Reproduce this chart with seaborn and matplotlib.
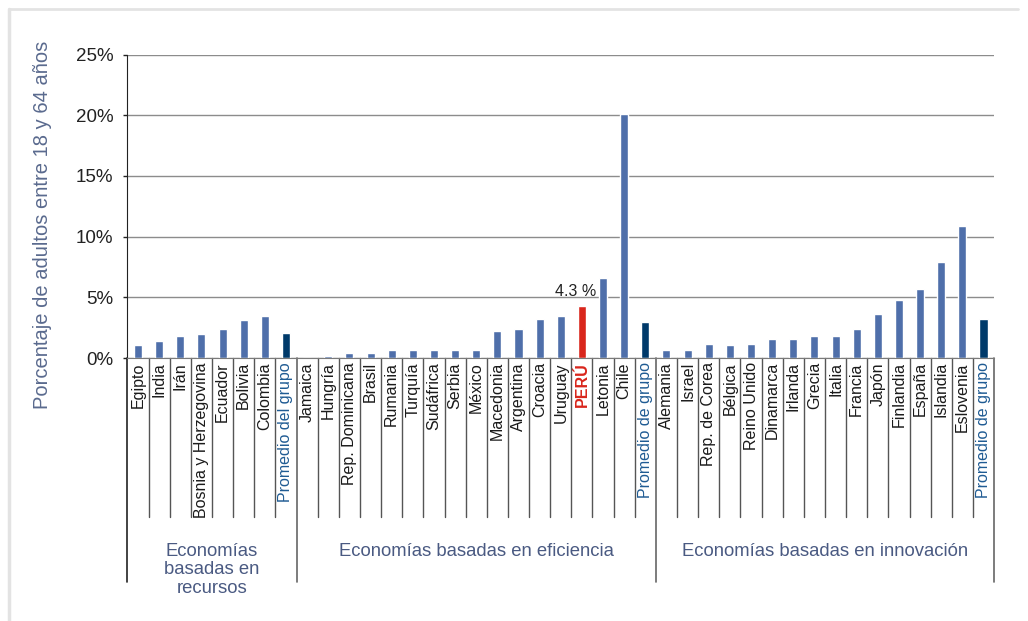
import matplotlib
matplotlib.use("Agg")
import matplotlib.pyplot as plt
import matplotlib.transforms as mtransforms
from matplotlib.lines import Line2D
import seaborn as sns
import pandas as pd

# --- datos (porcentaje de adultos entre 18 y 64 años) ---
grupos = ["Economías\nbasadas en\nrecursos",
          "Economías basadas en eficiencia",
          "Economías basadas en innovación"]

paises_recursos = ["Egipto", "India", "Irán", "Bosnia y Herzegovina", "Ecuador",
                   "Bolivia", "Colombia", "Promedio del grupo"]
valores_recursos = [1.05, 1.4, 1.8, 1.95, 2.35, 3.1, 3.45, 2.1]

paises_eficiencia = ["Jamaica", "Hungría", "Rep. Dominicana", "Brasil", "Rumania",
                     "Turquía", "Sudáfrica", "Serbia", "México", "Macedonia",
                     "Argentina", "Croacia", "Uruguay", "PERÚ", "Letonia", "Chile",
                     "Promedio de grupo"]
valores_eficiencia = [0.0, 0.15, 0.4, 0.4, 0.65, 0.65, 0.7, 0.7, 0.7, 2.2,
                      2.35, 3.25, 3.45, 4.3, 6.6, 20.1, 2.95]

paises_innovacion = ["Alemania", "Israel", "Rep. de Corea", "Bélgica", "Reino Unido",
                     "Dinamarca", "Irlanda", "Grecia", "Italia", "Francia", "Japón",
                     "Finlandia", "España", "Islandia", "Eslovenia", "Promedio de grupo"]
valores_innovacion = [0.7, 0.7, 1.15, 1.05, 1.15, 1.55, 1.55, 1.8, 1.8, 2.4, 3.65,
                      4.75, 5.65, 7.9, 10.85, 3.2]

yticks = [0, 5, 10, 15, 20, 25]

# colores
c_barra = "#4f6faa"
c_prom = "#003a6a"
c_peru = "#d9261c"
c_texto_prom = "#1f5b93"
c_grupo = "#4a5a82"

# --- tabla para seaborn ---
filas = []
for g, (paises, valores) in enumerate([(paises_recursos, valores_recursos),
                                       (paises_eficiencia, valores_eficiencia),
                                       (paises_innovacion, valores_innovacion)]):
    for p, v in zip(paises, valores):
        filas.append({"clave": f"{g}|{p}", "pais": p, "grupo": g, "valor": v})
df = pd.DataFrame(filas)


def color_de(p):
    if p.startswith("Promedio"):
        return c_prom
    if p == "PERÚ":
        return c_peru
    return c_barra


paleta = {k: color_de(p) for k, p in zip(df["clave"], df["pais"])}

sns.set_style("white")
plt.rcParams["font.family"] = ["Liberation Sans", "DejaVu Sans"]

fig = plt.figure(figsize=(10.28, 6.21), dpi=100)
ax = fig.add_axes([0.124, 0.4235, 0.843, 0.4887])

sns.barplot(data=df, x="clave", y="valor", hue="clave", palette=paleta,
            legend=False, width=0.38, ax=ax, saturation=1)

ax.set_ylim(0, 25)
ax.set_xlim(-0.5, len(df) - 0.5)
ax.set_yticks(yticks)
ax.set_yticklabels([f"{t}%" for t in yticks], fontsize=13.5, color="#222222")
ax.set_axisbelow(True)
ax.grid(axis="y", color="#8c8c8c", lw=1)
ax.tick_params(axis="y", left=True, length=3, width=1, color="#222222", pad=7)
ax.tick_params(axis="x", bottom=False, length=0, pad=3)

ax.set_xticks(range(len(df)))
ax.set_xticklabels(df["pais"], rotation=90, fontsize=11.5, va="top")
for lbl, p in zip(ax.get_xticklabels(), df["pais"]):
    if p.startswith("Promedio"):
        lbl.set_color(c_texto_prom)
    elif p == "PERÚ":
        lbl.set_color(c_peru)
        lbl.set_fontweight("bold")
    else:
        lbl.set_color("#1a1a1a")

ax.set_xlabel("")
ax.set_ylabel("Porcentaje de adultos entre 18 y 64 años", fontsize=14.5,
              color="#5a6a8e")
ax.yaxis.set_label_coords(-0.087, 0.44)

for s in ["top", "right"]:
    ax.spines[s].set_visible(False)
ax.spines["left"].set_color("#222222")
ax.spines["bottom"].set_color("#7a7a7a")

# etiqueta del Perú
i_peru = df.index[df["pais"] == "PERÚ"][0]
ax.text(i_peru - 0.3, df.loc[i_peru, "valor"] + 0.6, "4.3 %", ha="center",
        va="bottom", fontsize=11.5, color="#222222")

# separadores bajo el eje
tr = mtransforms.blended_transform_factory(ax.transData, ax.transAxes)
n1 = len(paises_recursos)
n2 = n1 + len(paises_eficiencia)
limites_grupo = [-0.5, n1 - 0.5, n2 - 0.5, len(df) - 0.5]
for k in range(1, len(df)):
    x = k - 0.5
    if x in limites_grupo:
        continue
    ax.add_line(Line2D([x, x], [0, -0.524], transform=tr, color="#555555",
                       lw=1, clip_on=False))
for j, x in enumerate(limites_grupo):
    col = "#222222" if j == 0 else "#666666"
    ax.add_line(Line2D([x, x], [0, -0.738], transform=tr, color=col,
                       lw=1.2, clip_on=False))

for j, nombre in enumerate(grupos):
    centro = (limites_grupo[j] + limites_grupo[j + 1]) / 2
    ax.text(centro, -0.608, nombre, transform=tr, ha="center", va="top",
            fontsize=13.3, color=c_grupo, linespacing=1.12)

# marco gris claro de la figura
fig.add_artist(Line2D([9 / 1028, 9 / 1028], [0, 1 - 9 / 621], transform=fig.transFigure,
                      color="#e3e3e3", lw=2.5))
fig.add_artist(Line2D([9 / 1028, 1018 / 1028], [1 - 9 / 621, 1 - 9 / 621],
                      transform=fig.transFigure, color="#e3e3e3", lw=2))

fig.savefig("out.png", dpi=100)
